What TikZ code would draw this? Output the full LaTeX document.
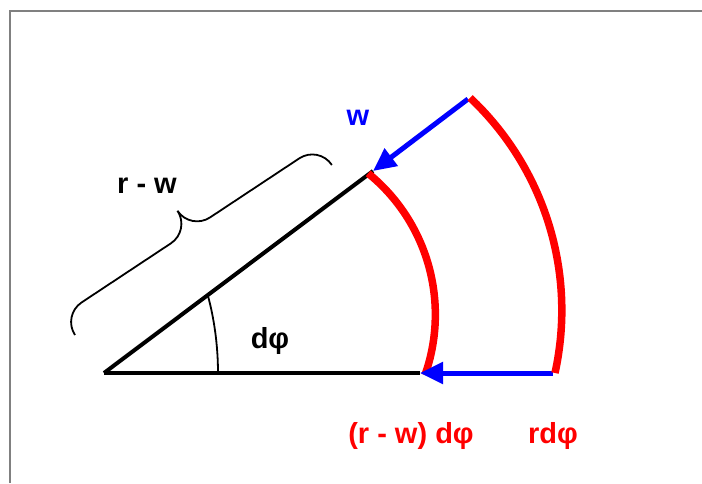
\documentclass[tikz,border=0pt]{standalone}
\usepackage{fontspec}
\setmainfont{Liberation Sans}
\usetikzlibrary{arrows.meta}
\begin{document}
\begin{tikzpicture}[x=1pt,y=-1pt,
  frameline/.style={draw=gray, line width=2.5pt},
  blackline/.style={draw=black, line width=4pt},
  thinline/.style={draw=black, line width=1.8pt},
  redarc/.style={draw=red, line width=7.5pt},
  bluearrow/.style={draw=blue, line width=5pt, -{Triangle[length=23pt,width=21pt]}},
  lab/.style={font=\fontsize{29}{34}\selectfont\bfseries, inner sep=0pt, anchor=base}]
\useasboundingbox (0,0) rectangle (702,483);
% frame
\draw[frameline] (10,483) -- (10,11) -- (702,11);
% coordinates
\coordinate (O) at (104,373);
\coordinate (H) at (420,373);
\coordinate (T) at (373,171);
\coordinate (IA) at (425,375);
\coordinate (OA) at (555,373);
\coordinate (OT) at (468,99);
\coordinate (OB) at (553,373);
\coordinate (A1) at (208,296);
\coordinate (A2) at (218,373);
% black lines
\draw[blackline] (O) -- (H);
\draw[blackline] (O) -- (T);
% angle arc
\draw[thinline] (A1) .. controls (214,318) and (218,345) .. (A2);
% brace
\begin{scope}[shift={(75pt,-335pt)}, x={(0.834pt,0.552pt)}, y={(-0.552pt,0.834pt)}]
\draw[thinline] (0,0) .. controls (0,13) and (10.5,23.5) .. (23.5,23.5) -- (130.5,23.5)
  .. controls (143.5,23.5) and (154,34) .. (154,47)
  .. controls (154,34) and (164.5,23.5) .. (177.5,23.5) -- (284.5,23.5)
  .. controls (297.5,23.5) and (308,13) .. (308,0);
\end{scope}
% inner red arc
\draw[redarc] (IA) arc[start angle=19.4, end angle=-50.9, radius=182];
% blue arrows
\draw[bluearrow] (OT) -- (T);
\draw[bluearrow] (OB) -- (H);
% outer red arc
\draw[redarc] (OA) arc[start angle=12.4, end angle=-46.7, radius=292];
% labels
\node[lab] (rw) at (147,193) {r - w};
\node[lab, text=blue] (w) at (358,125) {w};
\node[lab] (dphi) at (270,348) {dφ};
\node[lab, text=red] (inner) at (411,443) {(r - w) dφ};
\node[lab, text=red] (outer) at (553,443) {rdφ};
\end{tikzpicture}
\end{document}
